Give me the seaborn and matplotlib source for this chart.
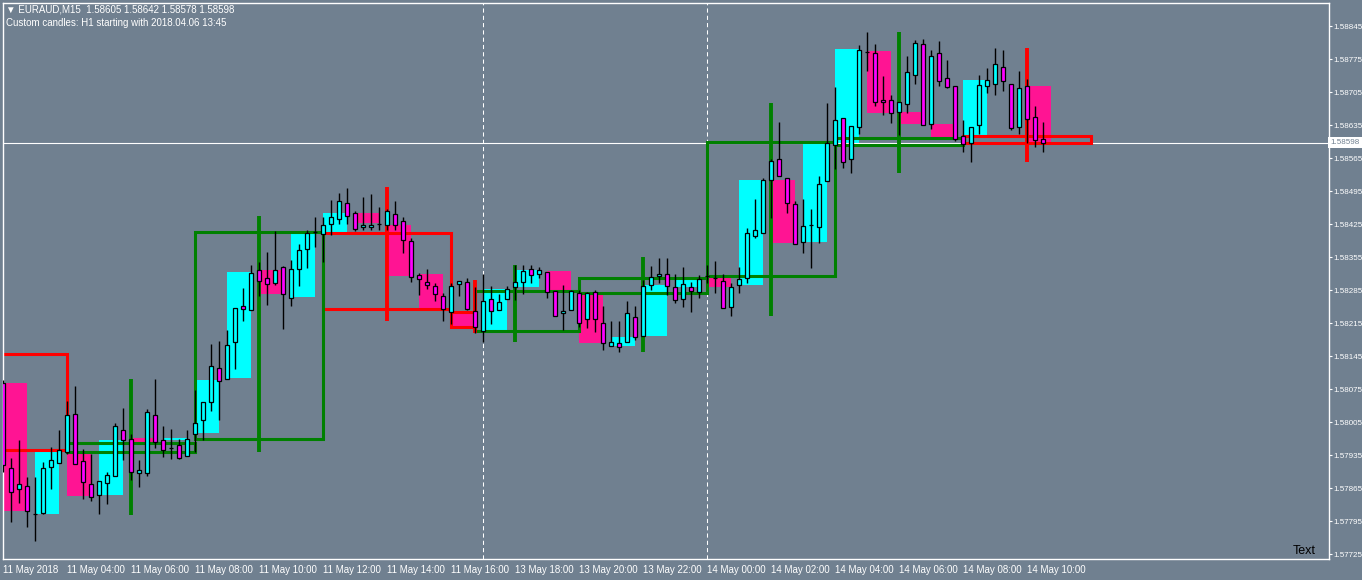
import numpy as np
import matplotlib
matplotlib.use("Agg")
import matplotlib.pyplot as plt
import matplotlib.transforms as mtransforms
from matplotlib.patches import Rectangle
import seaborn as sns

sns.set_theme(style="dark")
plt.rcParams['font.family'] = ['Liberation Sans', 'DejaVu Sans']

BG = '#708090'
UP, DOWN = '#00FFFF', '#FF00FF'
H1_UP, H1_DOWN = '#00FFFF', '#FF1493'
H4_UP, H4_DOWN = '#008000', '#FF0000'

# EURAUD M15 bars, 11 May 2018 02:00 onwards (bar index = position on chart)
m15_open = [
    1.58088, 1.57907, 1.57862, 1.57869, 1.57810, 1.57813, 1.57910, 1.57919, 1.57941, 1.58023,
    1.57922, 1.57873, 1.57850, 1.57875, 1.57890, 1.57989, 1.57970, 1.57898, 1.57898, 1.58021,
    1.57966, 1.57950, 1.57956, 1.57932, 1.57979, 1.58009, 1.58048, 1.58119, 1.58097, 1.58174,
    1.58251, 1.58242, 1.58327, 1.58310, 1.58300, 1.58333, 1.58269, 1.58329, 1.58373, 1.58408,
    1.58403, 1.58426, 1.58435, 1.58469, 1.58448, 1.58418, 1.58418, 1.58426, 1.58422, 1.58446,
    1.58431, 1.58390, 1.58318, 1.58303, 1.58293, 1.58272, 1.58238, 1.58297, 1.58303, 1.58240,
    1.58198, 1.58267, 1.58242, 1.58265, 1.58292, 1.58303, 1.58329, 1.58320, 1.58324, 1.58283,
    1.58236, 1.58242, 1.58278, 1.58223, 1.58281, 1.58216, 1.58166, 1.58172, 1.58174, 1.58227,
    1.58187, 1.58295, 1.58315, 1.58319, 1.58291, 1.58267, 1.58291, 1.58281, 1.58315, 1.58310,
    1.58305, 1.58250, 1.58295, 1.58311, 1.58400, 1.58406, 1.58518, 1.58563, 1.58522, 1.58467,
    1.58386, 1.58423, 1.58418, 1.58517, 1.58592, 1.58651, 1.58564, 1.58630, 1.58790, 1.58787,
    1.58689, 1.58689, 1.58662, 1.58679, 1.58741, 1.58806, 1.58638, 1.58787, 1.58734, 1.58718,
    1.58611, 1.58598, 1.58636, 1.58718, 1.58723, 1.58759, 1.58723, 1.58631, 1.58718, 1.58652,
    1.58605]
m15_high = [
    1.58094, 1.57928, 1.57967, 1.57889, 1.57889, 1.57921, 1.57952, 1.57988, 1.58049, 1.58081,
    1.57948, 1.57938, 1.57879, 1.57900, 1.58004, 1.58034, 1.57979, 1.57924, 1.58032, 1.58096,
    1.57997, 1.57990, 1.57970, 1.57989, 1.58073, 1.58047, 1.58170, 1.58177, 1.58200, 1.58246,
    1.58289, 1.58338, 1.58344, 1.58365, 1.58410, 1.58336, 1.58349, 1.58383, 1.58412, 1.58440,
    1.58440, 1.58476, 1.58491, 1.58501, 1.58453, 1.58483, 1.58489, 1.58462, 1.58458, 1.58474,
    1.58440, 1.58395, 1.58322, 1.58330, 1.58299, 1.58278, 1.58299, 1.58305, 1.58310, 1.58291,
    1.58320, 1.58293, 1.58276, 1.58293, 1.58338, 1.58338, 1.58338, 1.58334, 1.58324, 1.58283,
    1.58296, 1.58285, 1.58285, 1.58281, 1.58285, 1.58251, 1.58219, 1.58219, 1.58262, 1.58252,
    1.58306, 1.58336, 1.58353, 1.58353, 1.58320, 1.58334, 1.58302, 1.58318, 1.58338, 1.58346,
    1.58319, 1.58299, 1.58334, 1.58416, 1.58479, 1.58522, 1.58563, 1.58642, 1.58522, 1.58474,
    1.58479, 1.58457, 1.58527, 1.58681, 1.58716, 1.58651, 1.58634, 1.58805, 1.58832, 1.58808,
    1.58739, 1.58699, 1.58683, 1.58781, 1.58815, 1.58817, 1.58795, 1.58813, 1.58773, 1.58718,
    1.58646, 1.58631, 1.58741, 1.58757, 1.58798, 1.58794, 1.58723, 1.58749, 1.58732, 1.58675,
    1.58642]
m15_low = [
    1.57900, 1.57794, 1.57834, 1.57783, 1.57752, 1.57811, 1.57863, 1.57919, 1.57938, 1.57917,
    1.57842, 1.57837, 1.57809, 1.57832, 1.57890, 1.57924, 1.57883, 1.57868, 1.57891, 1.57949,
    1.57930, 1.57926, 1.57926, 1.57932, 1.57942, 1.57968, 1.58029, 1.58009, 1.58096, 1.58117,
    1.58219, 1.58242, 1.58272, 1.58253, 1.58296, 1.58203, 1.58251, 1.58294, 1.58332, 1.58377,
    1.58345, 1.58402, 1.58426, 1.58426, 1.58411, 1.58412, 1.58412, 1.58412, 1.58412, 1.58412,
    1.58364, 1.58303, 1.58274, 1.58288, 1.58262, 1.58220, 1.58214, 1.58273, 1.58242, 1.58194,
    1.58175, 1.58214, 1.58242, 1.58265, 1.58264, 1.58276, 1.58300, 1.58310, 1.58269, 1.58230,
    1.58200, 1.58242, 1.58207, 1.58204, 1.58196, 1.58158, 1.58166, 1.58154, 1.58174, 1.58179,
    1.58187, 1.58285, 1.58299, 1.58274, 1.58257, 1.58250, 1.58239, 1.58269, 1.58299, 1.58279,
    1.58246, 1.58230, 1.58279, 1.58300, 1.58395, 1.58406, 1.58438, 1.58527, 1.58449, 1.58382,
    1.58363, 1.58332, 1.58384, 1.58517, 1.58542, 1.58544, 1.58534, 1.58617, 1.58750, 1.58675,
    1.58656, 1.58640, 1.58614, 1.58660, 1.58723, 1.58636, 1.58626, 1.58718, 1.58713, 1.58602,
    1.58578, 1.58557, 1.58617, 1.58702, 1.58699, 1.58708, 1.58624, 1.58617, 1.58597, 1.58589,
    1.58578]
m15_close = [
    1.57914, 1.57857, 1.57873, 1.57817, 1.57810, 1.57907, 1.57924, 1.57945, 1.58019, 1.57917,
    1.57877, 1.57847, 1.57879, 1.57892, 1.57996, 1.57966, 1.57900, 1.57903, 1.58026, 1.57962,
    1.57945, 1.57950, 1.57928, 1.57970, 1.58004, 1.58047, 1.58124, 1.58093, 1.58168, 1.58246,
    1.58245, 1.58322, 1.58305, 1.58297, 1.58327, 1.58276, 1.58329, 1.58369, 1.58405, 1.58408,
    1.58424, 1.58439, 1.58473, 1.58442, 1.58414, 1.58422, 1.58422, 1.58426, 1.58452, 1.58422,
    1.58392, 1.58313, 1.58308, 1.58295, 1.58276, 1.58244, 1.58293, 1.58305, 1.58244, 1.58206,
    1.58262, 1.58240, 1.58260, 1.58288, 1.58302, 1.58325, 1.58317, 1.58327, 1.58280, 1.58230,
    1.58240, 1.58283, 1.58216, 1.58278, 1.58223, 1.58172, 1.58174, 1.58165, 1.58236, 1.58185,
    1.58293, 1.58312, 1.58320, 1.58294, 1.58264, 1.58298, 1.58283, 1.58308, 1.58315, 1.58310,
    1.58246, 1.58291, 1.58308, 1.58407, 1.58412, 1.58518, 1.58559, 1.58527, 1.58469, 1.58382,
    1.58421, 1.58423, 1.58511, 1.58598, 1.58645, 1.58557, 1.58634, 1.58795, 1.58790, 1.58684,
    1.58684, 1.58660, 1.58683, 1.58747, 1.58810, 1.58636, 1.58781, 1.58729, 1.58716, 1.58605,
    1.58594, 1.58631, 1.58721, 1.58730, 1.58764, 1.58729, 1.58628, 1.58713, 1.58647, 1.58603,
    1.58598]

# custom H1 candles (bodies only), first M15 bar of each hour
h1_start = [0, 4, 8, 12, 16, 20, 24, 28, 32, 36, 40, 44, 48, 52, 56, 60,
            64, 68, 72, 76, 80, 84, 88, 92, 96, 100, 104, 108, 112, 116, 120, 128]
h1_open = [1.58088, 1.57811, 1.57940, 1.57850, 1.57971, 1.57967, 1.57981, 1.58099,
           1.58328, 1.58271, 1.58402, 1.58449, 1.58423, 1.58320, 1.58238, 1.58199,
           1.58292, 1.58325, 1.58278, 1.58167, 1.58188, 1.58292, 1.58313, 1.58296,
           1.58518, 1.58387, 1.58596, 1.58792, 1.58663, 1.58638, 1.58614, 1.58718]
h1_close = [1.57817, 1.57944, 1.57848, 1.57967, 1.57963, 1.57971, 1.58094, 1.58323,
            1.58277, 1.58404, 1.58449, 1.58428, 1.58315, 1.58247, 1.58207, 1.58288,
            1.58327, 1.58285, 1.58173, 1.58186, 1.58296, 1.58308, 1.58292, 1.58518,
            1.58384, 1.58597, 1.58796, 1.58661, 1.58638, 1.58607, 1.58730, 1.58600]

# H4 candles: span in M15 bars, wick bar, OHLC
h4_start = [-8, 8, 24, 40, 56, 59, 72, 88, 104, 120]
h4_end = [8, 24, 40, 56, 59, 72, 88, 104, 120, 136]
h4_wick = [0, 16, 32, 48, 59, 64, 80, 96, 112, 128]
h4_open = [1.58149, 1.57941, 1.57969, 1.58405, 1.58239, 1.58198, 1.58279, 1.58315, 1.58592, 1.58612]
h4_high = [np.nan, 1.58096, 1.58442, 1.58503, 1.58306, 1.58338, 1.58355, 1.58682, 1.58833, 1.58799]
h4_low = [np.nan, 1.57808, 1.57941, 1.58219, 1.58194, 1.58175, 1.58153, 1.58230, 1.58533, 1.58556]
h4_close = [1.57946, 1.57961, 1.58408, 1.58245, 1.58207, 1.58283, 1.58310, 1.58600, 1.58607, 1.58598]

day_breaks = [60, 88]
last_price = 1.58598

tick_bars = [0, 8, 16, 24, 32, 40, 48, 56, 64, 72, 80, 88, 96, 104, 112, 120, 128]
tick_labels = ['11 May 2018', '11 May 04:00', '11 May 06:00', '11 May 08:00', '11 May 10:00',
               '11 May 12:00', '11 May 14:00', '11 May 16:00', '13 May 18:00', '13 May 20:00',
               '13 May 22:00', '14 May 00:00', '14 May 02:00', '14 May 04:00', '14 May 06:00',
               '14 May 08:00', '14 May 10:00']
price_ticks = [1.58845, 1.58775, 1.58705, 1.58635, 1.58565, 1.58495, 1.58425, 1.58355, 1.58285,
               1.58215, 1.58145, 1.58075, 1.58005, 1.57935, 1.57865, 1.57795, 1.57725]

W, H = 1362, 580
fig = plt.figure(figsize=(W / 100, H / 100), dpi=100, facecolor=BG)
ax = fig.add_axes([2.5 / W, 21.5 / H, 1326 / W, 556 / H], facecolor=BG)

# H1 bodies
ho, hc = np.array(h1_open), np.array(h1_close)
ax.bar(h1_start, np.abs(hc - ho), bottom=np.minimum(ho, hc), width=3, align='edge',
       color=np.where(hc > ho, H1_UP, H1_DOWN), linewidth=0, zorder=1)

# period separators and last price line
for b in day_breaks:
    ax.axvline(b, color='white', lw=0.75, ls=(0, (4, 3)), zorder=1.5)
ax.axhline(last_price, color='white', lw=0.8, zorder=1.6)

# H4 boxes, later ones drawn underneath
for k in reversed(range(len(h4_start))):
    col = H4_UP if h4_close[k] > h4_open[k] else H4_DOWN
    lo4 = min(h4_open[k], h4_close[k])
    ax.add_patch(Rectangle((h4_start[k], lo4), h4_end[k] - h4_start[k],
                           abs(h4_close[k] - h4_open[k]), fill=False, ec=col, lw=2.2,
                           zorder=2 + 0.01 * (len(h4_start) - k)))
    ax.vlines(h4_wick[k], h4_low[k], h4_high[k], color=col, lw=2.8,
              zorder=2 + 0.01 * (len(h4_start) - k))

# M15 candles
idx = np.arange(len(m15_open))
o, c = np.array(m15_open), np.array(m15_close)
ax.vlines(idx, m15_low, m15_high, color='black', lw=1.0, zorder=3)
ax.bar(idx, np.abs(c - o), bottom=np.minimum(o, c), width=0.5,
       color=np.where(c > o, UP, DOWN), edgecolor='black', linewidth=0.9, zorder=4)

ax.set_xlim(-0.1, 165.65)
ax.set_ylim(1.577156, 1.58895)
ax.grid(False)
for s in ax.spines.values():
    s.set_color('white')
    s.set_linewidth(1.0)

ax.yaxis.tick_right()
ax.set_yticks(price_ticks)
ax.set_yticklabels([f'{p:.5f}' for p in price_ticks])
ax.set_xticks(tick_bars)
ax.set_xticklabels(tick_labels)
for lbl in ax.get_xticklabels():
    lbl.set_ha('left')
ax.tick_params(axis='y', direction='out', length=2.2, width=0.8, colors='white',
               labelsize=5.8, pad=1.2)
ax.tick_params(axis='x', direction='out', length=3, width=0.8, colors='white',
               labelsize=7, pad=1.5)

trans = mtransforms.blended_transform_factory(ax.transAxes, ax.transData)
ax.text(1.0015, last_price, '1.58598', transform=trans, fontsize=5.8, color=BG,
        va='center', ha='left', clip_on=False, zorder=10,
        bbox=dict(boxstyle='square,pad=0.3', fc='white', ec='none'))

fig.text(6 / W, 1 - 10 / H, '\u25bc EURAUD,M15  1.58605 1.58642 1.58578 1.58598',
         fontsize=7, color='white', va='center', ha='left')
fig.text(6 / W, 1 - 23 / H, 'Custom candles: H1 starting with 2018.04.06 13:45',
         fontsize=7, color='white', va='center', ha='left')
fig.text(1293 / W, 1 - 551 / H, 'Text', fontsize=9, color='black', va='center', ha='left')

fig.savefig('out.png', dpi=100, facecolor=BG)
